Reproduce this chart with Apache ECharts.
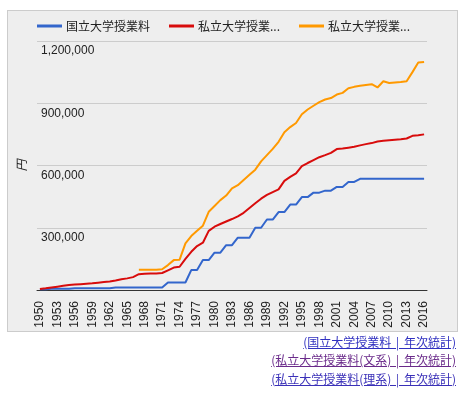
<!DOCTYPE html>
<html>
<head>
<meta charset="utf-8">
<script src="https://cdn.jsdelivr.net/npm/echarts@6/dist/echarts.min.js"></script>
<style>
html,body{margin:0;padding:0;background:#fff;width:468px;height:393px;overflow:hidden;}
#box{position:absolute;left:7px;top:10px;width:449px;height:320px;background:#eeeeee;border:1px solid #cccccc;}
#chart{position:absolute;left:0;top:0;width:468px;height:393px;}
.links{position:absolute;right:12px;top:333px;text-align:right;font-family:"Noto Sans CJK JP","Liberation Sans",sans-serif;font-size:12px;line-height:18.3px;}
.links a{text-decoration:underline;display:block;word-spacing:2px;}
</style>
</head>
<body>
<div id="box"></div>
<div id="chart"></div>
<div class="links">
<a style="color:#3030c0">(国立大学授業料 | 年次統計)</a>
<a style="color:#6a2a8a">(私立大学授業料(文系) | 年次統計)</a>
<a style="color:#3a30b8">(私立大学授業料(理系) | 年次統計)</a>
</div>
<script>
const years = [];
for (let y = 1950; y <= 2016; y++) years.push(String(y));

const seriesNames = ['国立大学授業料', '私立大学授業料(文系)', '私立大学授業料(理系)'];

const national = [
  3600, 3600, 6000, 6000, 6000, 6000, 9000, 9000, 9000, 9000,
  9000, 9000, 9000, 12000, 12000, 12000, 12000, 12000, 12000, 12000,
  12000, 12000, 36000, 36000, 36000, 36000, 96000, 96000, 144000, 144000,
  180000, 180000, 216000, 216000, 252000, 252000, 252000, 300000, 300000, 339600,
  339600, 375600, 375600, 411600, 411600, 447600, 447600, 469200, 469200, 478800,
  478800, 496800, 496800, 520800, 520800, 535800, 535800, 535800, 535800, 535800,
  535800, 535800, 535800, 535800, 535800, 535800, 535800
];

const privateBun = [
  5000, 8000, 12000, 16000, 20000, 24000, 26000, 28000, 30000, 32000,
  35000, 38000, 41000, 46000, 52000, 56000, 62000, 76000, 78000, 79000,
  80000, 82000, 95000, 108000, 112000, 150000, 184000, 212000, 228000, 285000,
  305000, 318000, 330000, 342000, 355000, 372000, 395000, 418000, 440000, 458000,
  472000, 485000, 526000, 545000, 562000, 597000, 612000, 626000, 640000, 650000,
  661000, 679000, 682000, 686000, 690000, 697000, 703000, 708000, 716000, 719000,
  722000, 724000, 726000, 730000, 743000, 746000, 750000
];

const privateRi = [
  null, null, null, null, null, null, null, null, null, null,
  null, null, null, null, null, null, null, 98000, 98000, 98000,
  98000, 100000, 120000, 144000, 146000, 225000, 260000, 285000, 310000, 377000,
  405000, 433000, 455000, 490000, 505000, 530000, 555000, 580000, 620000, 650000,
  680000, 714000, 760000, 785000, 805000, 847000, 870000, 888000, 905000, 918000,
  925000, 942000, 950000, 972000, 979000, 984000, 988000, 992000, 976000, 1006000,
  998000, 1000000, 1002000, 1006000, 1050000, 1096000, 1099000
];

const colors = ['#3366cc', '#d80c0c', '#ff9900'];
const fontJP = '"Noto Sans CJK JP", "Liberation Sans", sans-serif';
const fontNum = '"Liberation Sans", Arial, sans-serif';

const chart = echarts.init(document.getElementById('chart'));
chart.setOption({
  animation: false,
  backgroundColor: 'transparent',
  color: colors,
  legend: {
    left: 37,
    top: 20,
    padding: 0,
    itemWidth: 25,
    itemHeight: 3,
    itemGap: 19,
    icon: 'rect',
    data: seriesNames,
    formatter: function (n) { return n.length > 7 ? n.slice(0, 6) + '...' : n; },
    textStyle: { fontFamily: fontJP, fontSize: 12, color: '#222', padding: [0, 0, 0, -1] }
  },
  grid: { left: 37, right: 41, top: 41, bottom: 103 },
  xAxis: {
    type: 'category',
    data: years,
    boundaryGap: true,
    axisLine: { lineStyle: { color: '#333', width: 1 } },
    axisTick: { show: false },
    axisLabel: {
      interval: 2,
      rotate: 90,
      margin: 11,
      fontSize: 12,
      fontFamily: fontNum,
      color: '#222'
    }
  },
  yAxis: {
    type: 'value',
    min: 0,
    max: 1200000,
    interval: 300000,
    name: '円',
    nameLocation: 'middle',
    nameRotate: 90,
    nameGap: 10,
    nameTextStyle: { fontFamily: fontJP, fontSize: 12, fontStyle: 'italic', color: '#222' },
    axisLine: { show: false },
    axisTick: { show: false },
    splitLine: { lineStyle: { color: '#cccccc', width: 1 } },
    axisLabel: {
      inside: true,
      margin: 4,
      verticalAlign: 'top',
      padding: [4, 0, 0, 0],
      fontSize: 12,
      fontFamily: fontNum,
      color: '#222',
      formatter: function (v) { return v === 0 ? '' : v.toLocaleString('en-US'); }
    }
  },
  series: [
    { name: seriesNames[0], type: 'line', data: national, showSymbol: false, lineStyle: { width: 2 }, z: 3 },
    { name: seriesNames[1], type: 'line', data: privateBun, showSymbol: false, lineStyle: { width: 2 }, z: 4 },
    { name: seriesNames[2], type: 'line', data: privateRi, showSymbol: false, lineStyle: { width: 2 }, z: 5 }
  ]
});
</script>
</body>
</html>
